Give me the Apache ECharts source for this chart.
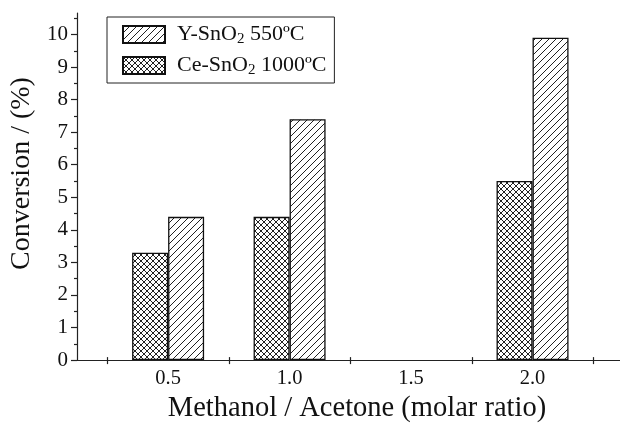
<!DOCTYPE html>
<html>
<head>
<meta charset="utf-8">
<script src="https://cdn.jsdelivr.net/npm/echarts@6/dist/echarts.min.js"></script>
<style>html,body{margin:0;padding:0;background:#fff}#c{width:620px;height:428px}</style>
</head>
<body>
<div id="c"></div>
<script>
// ---- data ----
const ratios = [0.5, 1.0, 2.0];
const ceValues = [3.3, 4.4, 5.5];   // Ce-SnO2 1000ºC
const yValues = [4.4, 7.4, 9.9];    // Y-SnO2 550ºC
const xTickValues = [0.25, 0.75, 1.25, 1.75, 2.25];
const xLabelValues = [0.5, 1.0, 1.5, 2.0];
const yMajorTicks = [0, 1, 2, 3, 4, 5, 6, 7, 8, 9, 10];
const yMinorTicks = [0.5, 1.5, 2.5, 3.5, 4.5, 5.5, 6.5, 7.5, 8.5, 9.5, 10.5];
const seriesNames = ['Y-SnO2 550ºC', 'Ce-SnO2 1000ºC'];

const FONT = "'Liberation Serif','Times New Roman',serif";

function hatch(cross) {
  const s = cross ? 6 : 7;
  const c = document.createElement('canvas');
  c.width = s; c.height = s;
  const g = c.getContext('2d');
  g.fillStyle = '#fff'; g.fillRect(0, 0, s, s);
  g.strokeStyle = '#222'; g.lineWidth = 1;
  g.beginPath();
  g.moveTo(-1, s + 1); g.lineTo(s + 1, -1);
  g.moveTo(-1, 1); g.lineTo(1, -1);
  g.moveTo(s - 1, s + 1); g.lineTo(s + 1, s - 1);
  if (cross) {
    g.moveTo(-1, -1); g.lineTo(s + 1, s + 1);
    g.moveTo(s - 1, -1); g.lineTo(s + 1, 1);
    g.moveTo(-1, s - 1); g.lineTo(1, s + 1);
  }
  g.stroke();
  return { image: c, repeat: 'repeat' };
}

const chart = echarts.init(document.getElementById('c'), null, { renderer: 'canvas' });
const xMin = 0.125, xMax = 2.36, yMax = 10.66;

chart.setOption({
  animation: false,
  backgroundColor: '#fff',
  textStyle: { fontFamily: FONT },
  grid: { left: 77, right: 0, top: 13, bottom: 64, containLabel: false },
  legend: {
    left: 107, top: 17,
    orient: 'vertical',
    data: seriesNames,
    icon: 'rect',
    itemWidth: 42, itemHeight: 17, itemGap: 6,
    padding: [5, 8, 5, 15],
    borderColor: '#222', borderWidth: 1, backgroundColor: '#fff',
    formatter: function (name) {
      const parts = name.split('2');
      return '{t0|' + parts[0] + '}{s|2}{t|' + parts[1] + '}';
    },
    textStyle: {
      fontFamily: FONT, fontSize: 22, color: '#111',
      rich: {
        t0: { fontFamily: FONT, fontSize: 22, lineHeight: 24, padding: [0, 0, 0, 7], color: '#111' },
        t: { fontFamily: FONT, fontSize: 22, lineHeight: 24, color: '#111' },
        s: { fontFamily: FONT, fontSize: 15, lineHeight: 15, padding: [10, 0, 0, 0], color: '#111' }
      }
    }
  },
  xAxis: [{
    type: 'value', min: xMin, max: xMax,
    name: 'Methanol / Acetone (molar ratio)',
    nameLocation: 'middle', nameGap: 33,
    nameTextStyle: { fontFamily: FONT, fontSize: 28.5, color: '#111', padding: [0, 0, 0, 17] },
    axisLine: { show: true, lineStyle: { color: '#222', width: 1.2 } },
    axisTick: { show: true, inside: false, length: 4, customValues: xTickValues, lineStyle: { color: '#222', width: 1.2 } },
    axisLabel: { show: true, customValues: xLabelValues, margin: 8, fontFamily: FONT, fontSize: 20.5, color: '#111',
      formatter: v => Number(v).toFixed(1) },
    splitLine: { show: false }
  }, {
    type: 'value', min: xMin, max: xMax, position: 'bottom',
    axisLine: { show: false },
    axisTick: { show: true, inside: true, length: 3, customValues: xTickValues, lineStyle: { color: '#222', width: 1.2 } },
    axisLabel: { show: false },
    splitLine: { show: false }
  }],
  yAxis: [{
    type: 'value', min: 0, max: yMax,
    name: 'Conversion / (%)',
    nameLocation: 'middle', nameGap: 37,
    nameTextStyle: { fontFamily: FONT, fontSize: 28, color: '#111', padding: [0, 0, 0, 26] },
    axisLine: { show: true, lineStyle: { color: '#222', width: 1.2 } },
    axisTick: { show: true, inside: false, length: 6, customValues: yMajorTicks, lineStyle: { color: '#222', width: 1.2 } },
    axisLabel: { show: true, customValues: yMajorTicks, margin: 9, fontFamily: FONT, fontSize: 21, color: '#111' },
    splitLine: { show: false }
  }, {
    type: 'value', min: 0, max: yMax, position: 'left',
    axisLine: { show: false },
    axisTick: { show: true, inside: false, length: 3, customValues: yMinorTicks, lineStyle: { color: '#222', width: 1.2 } },
    axisLabel: { show: false },
    splitLine: { show: false }
  }],
  series: [{
    name: seriesNames[1], type: 'bar', xAxisIndex: 0, yAxisIndex: 0,
    barWidth: 36, barGap: '0%',
    data: ratios.map((r, i) => [r, ceValues[i]]),
    itemStyle: { color: hatch(true), borderColor: '#111', borderWidth: 1.3 }
  }, {
    name: seriesNames[0], type: 'bar', xAxisIndex: 0, yAxisIndex: 0,
    barWidth: 36, barGap: '0%',
    data: ratios.map((r, i) => [r, yValues[i]]),
    itemStyle: { color: hatch(false), borderColor: '#111', borderWidth: 1.3 }
  }]
});
</script>
</body>
</html>
